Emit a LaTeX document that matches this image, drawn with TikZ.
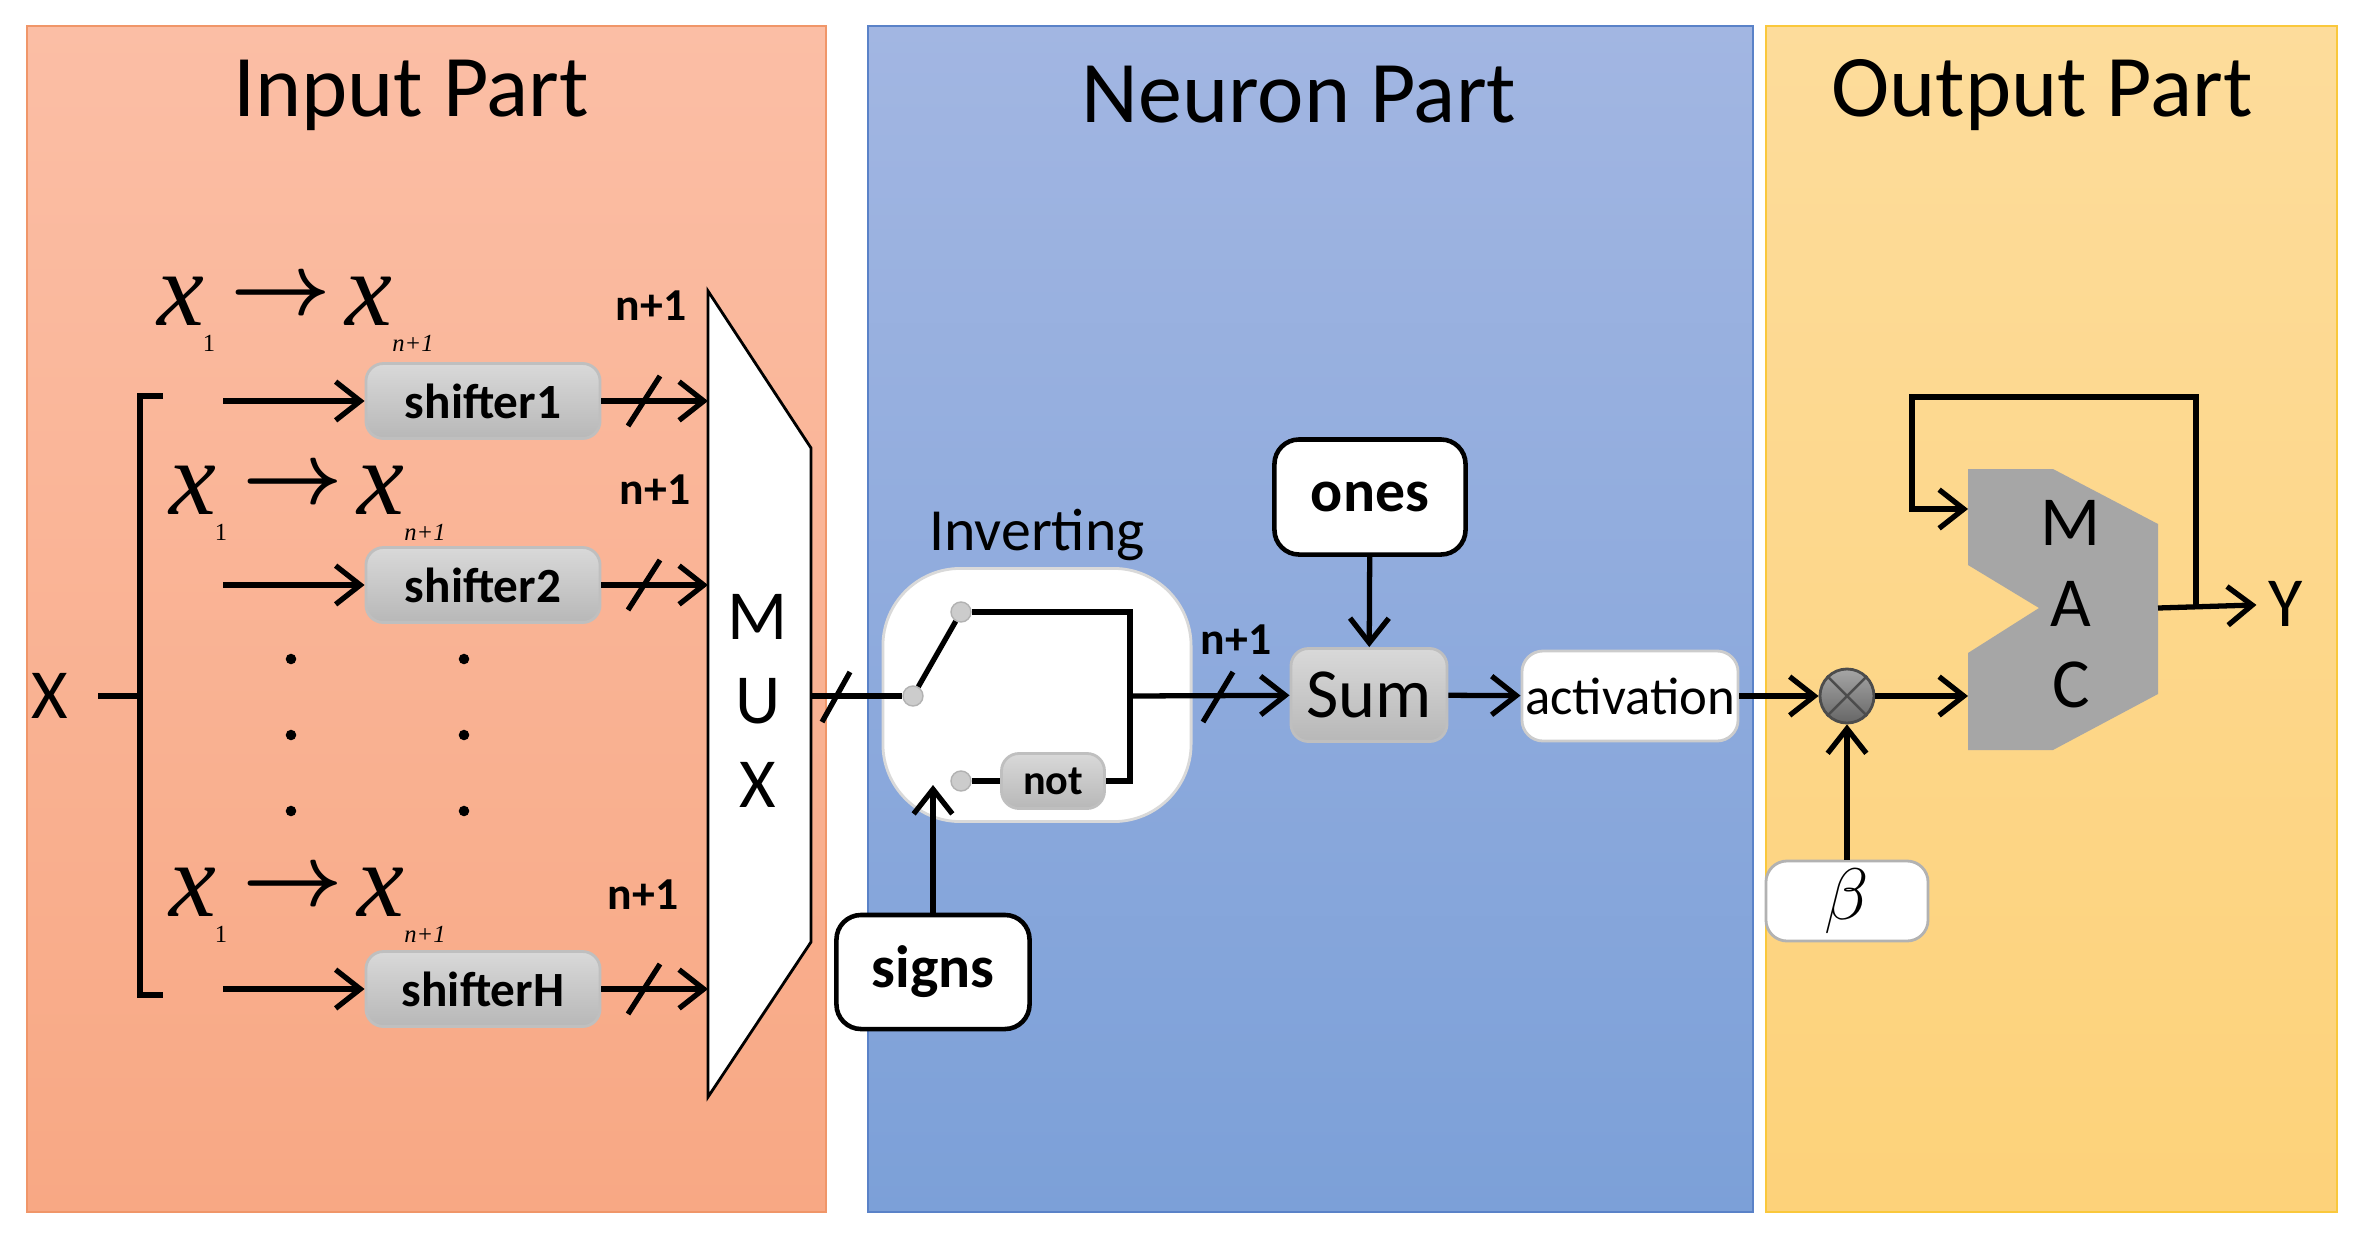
\documentclass[tikz,border=0pt]{standalone}
\usepackage{fontspec}
\setmainfont{Carlito}
\newfontfamily\mathser{Liberation Serif}
\usetikzlibrary{arrows.meta,shapes.misc}
\definecolor{inA}{RGB}{251,190,165}
\definecolor{inB}{RGB}{248,168,132}
\definecolor{inE}{RGB}{240,150,105}
\definecolor{neA}{RGB}{162,182,226}
\definecolor{neB}{RGB}{124,160,216}
\definecolor{neE}{RGB}{90,130,200}
\definecolor{ouA}{RGB}{253,220,155}
\definecolor{ouB}{RGB}{253,210,122}
\definecolor{ouE}{RGB}{250,200,60}
\begin{document}
\begin{tikzpicture}[x=0.01cm,y=-0.01cm,
  ln/.style={line width=1.5pt},
  ar/.style={ln,-{Straight Barb[length=7pt,width=11pt,line width=1.5pt]}},
  gbox/.style={draw=black!25,line width=0.8pt,rounded corners=5pt,top color=black!15,bottom color=black!28,font=\bfseries\fontsize{14}{14}\selectfont,inner sep=0pt},
  wbox/.style={draw=black,line width=1.3pt,fill=white,rounded corners=7pt,font=\bfseries\fontsize{17}{17}\selectfont,inner sep=0pt},
  title/.style={font=\fontsize{25}{25}\selectfont},
  nlab/.style={font=\bfseries\fontsize{13}{13}\selectfont},
  big/.style={font=\fontsize{20}{20}\selectfont},
  dot/.style={circle,fill=black,inner sep=0pt,minimum size=3pt},
  pin/.style={circle,fill=black!20,draw=black!30,inner sep=0pt,minimum size=0.2cm}]
\useasboundingbox (0,0) rectangle (2363,1245);
\fill[white] (0,0) rectangle (2363,1245);
% panels
\shade[top color=inA,bottom color=inB] (27,26) rectangle (826,1212);
\draw[inE,line width=0.8pt] (27,26) rectangle (826,1212);
\shade[top color=neA,bottom color=neB] (868,26) rectangle (1753,1212);
\draw[neE,line width=0.8pt] (868,26) rectangle (1753,1212);
\shade[top color=ouA,bottom color=ouB] (1766,26) rectangle (2337,1212);
\draw[ouE,line width=0.8pt] (1766,26) rectangle (2337,1212);
\node[title] (t1) at (411,95) {Input Part};
\node[title] (t2) at (1299,95) {Neuron Part};
\node[title] (t3) at (2042,95) {Output Part};
% formulas
\foreach \yy/\xo/\nm in {301/181/a,490/193/b,892/193/c}{
  \node[font=\mathser\itshape\fontsize{30}{30}\selectfont] (f1\nm) at (\xo,\yy) {x};
  \node[font=\mathser\fontsize{7}{7}\selectfont,inner sep=0pt] at (\xo+28,\yy+42) {1};
  \node[font=\fontsize{36}{36}\selectfont\boldmath] (fa\nm) at (\xo+100,\yy-4) {$\rightarrow$};
  \node[font=\mathser\itshape\fontsize{30}{30}\selectfont] (f2\nm) at (\xo+188,\yy) {x};
  \node[font=\mathser\itshape\fontsize{7}{7}\selectfont,inner sep=0pt] at (\xo+232,\yy+42) {n+1};
}
\node[nlab] (n1) at (651,306) {n+1};
\node[nlab] (n2) at (655,490) {n+1};
\node[nlab] (n3) at (643,895) {n+1};
% shifters
\node[gbox,minimum width=2.34cm,minimum height=0.75cm] (s1) at (483,401) {shifter1};
\node[gbox,minimum width=2.34cm,minimum height=0.75cm] (s2) at (483,585) {shifter2};
\node[gbox,minimum width=2.34cm,minimum height=0.75cm] (sH) at (483,989) {shifterH};
\foreach \xx in {291,464}{\foreach \yy in {659,735,811}{\node[dot] at (\xx,\yy) {};}}
% X bracket
\node[big] (X) at (50,696) {X};
\draw[ln] (98,696) -- (140,696);
\draw[ln] (163,396) -- (140,396) -- (140,995) -- (163,995);
\coordinate (a1) at (223,401); \coordinate (a2) at (223,585); \coordinate (a3) at (223,989);
\draw[ar] (a1) -- (s1); \draw[ar] (a2) -- (s2); \draw[ar] (a3) -- (sH);
% MUX
\draw[line width=0.8pt,fill=white] (708,291) -- (811,448) -- (811,942) -- (708,1097) -- cycle;
\node[big,align=center] (mux) at (758,701) {M\\[4pt]U\\[4pt]X};
\foreach \s/\yy in {s1/401,s2/585,sH/989}{
  \coordinate (m\s) at (708,\yy);
  \draw[ar] (\s) -- (m\s);
  \draw[ln] (628,\yy+25) -- (660,\yy-25);
}
% Inverting
\node[font=\fontsize{17}{17}\selectfont] (invl) at (1037,535) {Inverting};
\node[draw=black!15,line width=0.8pt,fill=white,rounded corners=22pt,minimum width=3.08cm,minimum height=2.53cm] (inv) at (1037,695) {};
\node[pin] (p0) at (913,696) {};
\node[pin] (p1) at (961,612) {};
\node[pin] (p2) at (961,781) {};
\node[gbox,font=\bfseries\fontsize{12}{12}\selectfont,minimum width=1.03cm,minimum height=0.55cm] (not) at (1053,781) {not};
\coordinate (mo) at (811,696);
\draw[ln] (mo) -- (p0);
\draw[ln] (822,722) -- (850,672);
\draw[ln] (p0) -- (p1);
\coordinate (jr) at (1130,696);
\draw[ln] (p1) -- (1130,612) -- (1130,781) -- (not);
\draw[ln] (p2) -- (not);
% neuron
\node[gbox,font=\fontsize{20}{20}\selectfont,minimum width=1.56cm,minimum height=0.93cm] (sum) at (1369,695) {Sum};
\node[wbox,minimum width=1.91cm,minimum height=1.15cm] (ones) at (1370,497) {ones};
\node[wbox,minimum width=1.93cm,minimum height=1.14cm] (signs) at (933,972) {signs};
\node[draw=black!20,line width=0.8pt,fill=white,rounded corners=6pt,font=\fontsize{15}{15}\selectfont,minimum width=2.16cm,minimum height=0.9cm,inner sep=0pt] (act) at (1630,696) {activation};
\draw[ar] (jr) -- (sum);
\draw[ln] (1203,722) -- (1233,672);
\node[nlab] (n4) at (1236,640) {n+1};
\draw[ar] (ones) -- (sum);
\coordinate (sg) at (933,785);
\draw[ar] (signs) -- (sg);
\draw[ar] (sum) -- (act);
% output
\node[circle,draw=black!70,line width=0.8pt,top color=black!35,bottom color=black!60,minimum size=0.54cm,inner sep=0pt] (ot) at (1847,696) {};
\draw[black!70,line width=0.7pt] (ot.north west) -- (ot.south east) (ot.north east) -- (ot.south west);
\node[draw=black!30,line width=0.8pt,fill=white,rounded corners=6pt,minimum width=1.62cm,minimum height=0.8cm,inner sep=0pt,font=\fontsize{22}{22}\selectfont] (beta) at (1847,901) {$\beta$};
\draw[ar] (act) -- (ot);
\draw[ar] (beta) -- (ot);
\fill[black!35] (1968,469) -- (2053,469) -- (2158,524) -- (2158,694) -- (2053,750) -- (1968,750) -- (1968,653) -- (2039,608) -- (1968,565) -- cycle;
\node[font=\fontsize{20}{20}\selectfont,align=center] (mac) at (2071,604) {M\\[3pt]A\\[3pt]C};
\coordinate (macin) at (1968,696);
\coordinate (macfb) at (1968,509);
\coordinate (macout) at (2158,608);
\draw[ar] (ot) -- (macin);
\node[big] (Y) at (2286,604) {Y};
\draw[ar] (macout) -- (Y);
\draw[ar] (2196,608) -- (2196,397) -- (1912,397) -- (1912,509) -- (macfb);
\end{tikzpicture}
\end{document}
